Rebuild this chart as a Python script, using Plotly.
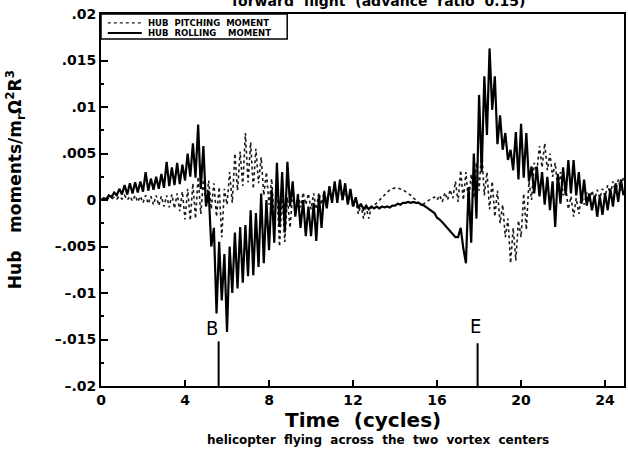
import plotly.graph_objects as go

time_step = 0.125
rolling_moment = [
    0.0, 0.0002, 0.0001, 0.0005, 0.0003, 0.0008, 0.0005, 0.0012,
    0.0006, 0.0016, 0.0006, 0.0018, 0.0007, 0.0019, 0.0008, 0.0020,
    0.0009, 0.0030, 0.0010, 0.0023, 0.0011, 0.0025, 0.0012, 0.0028,
    0.0013, 0.0041, 0.0015, 0.0035, 0.0016, 0.0040, 0.0017, 0.0038,
    0.0021, 0.0050, 0.0025, 0.0061, 0.0024, 0.0081, 0.0012, 0.0058,
    -0.0007, 0.0010, -0.0050, -0.0030, -0.0122, -0.0045, -0.0108, -0.0058,
    -0.0142, -0.0050, -0.0100, -0.0035, -0.0095, -0.0029, -0.0089, -0.0027,
    -0.0082, -0.0011, -0.0081, -0.0014, -0.0072, 0.0007, -0.0068, 0.0000,
    -0.0054, 0.0011, -0.0046, 0.0040, -0.0029, 0.0030, -0.0035, 0.0041,
    -0.0007, 0.0020, -0.0018, 0.0005, -0.0030, 0.0000, -0.0039, -0.0007,
    -0.0039, -0.0003, -0.0044, 0.0005, -0.0030, 0.0009, -0.0009, 0.0015,
    -0.0003, 0.0020, -0.0003, 0.0022, 0.0000, 0.0018, -0.0005, 0.0012,
    -0.0007, 0.0003, -0.0009, -0.0004, -0.0010, -0.0006, -0.0010, -0.0007,
    -0.0009, -0.0007, -0.0009, -0.0007, -0.0008, -0.0007, -0.0008, -0.0006,
    -0.0006, -0.0004, -0.0005, -0.0003, -0.0003, -0.0002, -0.0003, -0.0002,
    -0.0003, -0.0003, -0.0005, -0.0006, -0.0008, -0.0010, -0.0012, -0.0014,
    -0.0019, -0.0021, -0.0024, -0.0027, -0.0031, -0.0034, -0.0037, -0.0040,
    -0.0040, -0.0030, -0.0052, -0.0068, 0.0014, -0.0046, 0.0050, -0.0020,
    0.0113, 0.0030, 0.0133, 0.0070, 0.0163, 0.0097, 0.0133, 0.0060,
    0.0091, 0.0054, 0.0072, 0.0043, 0.0054, 0.0032, 0.0073, 0.0022,
    0.0082, 0.0024, 0.0072, 0.0020, 0.0036, 0.0007, 0.0036, 0.0004,
    0.0030, -0.0005, 0.0025, -0.0011, 0.0020, -0.0029, 0.0028, -0.0004,
    0.0035, 0.0005, 0.0043, 0.0007, 0.0043, 0.0005, 0.0030, -0.0004,
    0.0022, -0.0006, 0.0007, -0.0011, 0.0005, -0.0018, 0.0004, -0.0016,
    0.0007, -0.0011, 0.0012, -0.0007, 0.0018, -0.0002, 0.0022, 0.0005,
]
pitching_moment = [
    0.0, 0.0001, 0.0, 0.0002, 0.0001, 0.0003, 0.0001, 0.0004,
    0.0001, 0.0005, 0.0000, 0.0004, -0.0001, 0.0005, -0.0002, 0.0004,
    -0.0003, 0.0005, -0.0004, 0.0004, -0.0005, 0.0005, -0.0006, 0.0004,
    -0.0007, 0.0005, -0.0008, 0.0006, -0.0009, 0.0007, -0.0012, 0.0009,
    -0.0021, 0.0012, -0.0022, 0.0018, -0.0020, 0.0025, -0.0015, 0.0022,
    -0.0005, 0.0021, -0.0010, 0.0018, -0.0018, 0.0014, -0.0040, 0.0012,
    -0.0005, 0.0030, -0.0003, 0.0050, 0.0010, 0.0052, 0.0015, 0.0072,
    0.0019, 0.0062, 0.0012, 0.0055, 0.0018, 0.0046, 0.0005, 0.0030,
    -0.0005, 0.0023, -0.0025, 0.0010, -0.0050, 0.0005, -0.0045, 0.0003,
    -0.0030, 0.0008, -0.0015, 0.0008, -0.0008, 0.0008, -0.0005, 0.0007,
    -0.0010, 0.0007, -0.0010, 0.0008, -0.0005, 0.0010, -0.0003, 0.0012,
    0.0000, 0.0015, 0.0002, 0.0015, 0.0000, 0.0012, -0.0003, 0.0008,
    -0.0008, 0.0000, -0.0015, -0.0005, -0.0020, -0.0008, -0.0020, -0.0007,
    -0.0006, -0.0003, 0.0000, 0.0003, 0.0006, 0.0009, 0.0011, 0.0012,
    0.0013, 0.0013, 0.0012, 0.0011, 0.0009, 0.0007, 0.0005, 0.0002,
    0.0000, -0.0003, -0.0005, -0.0004, -0.0002, 0.0000, 0.0002, 0.0003,
    0.0000, 0.0005, -0.0002, 0.0008, 0.0000, 0.0011, 0.0002, 0.0020,
    -0.0002, 0.0032, 0.0000, 0.0030, -0.0004, 0.0028, 0.0002, 0.0040,
    0.0010, 0.0055, 0.0005, 0.0030, -0.0010, 0.0020, -0.0018, 0.0010,
    -0.0025, -0.0005, -0.0040, -0.0020, -0.0068, -0.0030, -0.0065, -0.0022,
    -0.0040, 0.0007, -0.0032, 0.0020, 0.0000, 0.0040, 0.0030, 0.0058,
    0.0035, 0.0061, 0.0032, 0.0050, 0.0025, 0.0040, 0.0010, 0.0030,
    0.0005, 0.0015, -0.0010, 0.0004, -0.0018, 0.0002, -0.0015, 0.0006,
    -0.0005, 0.0008, -0.0002, 0.0010, 0.0000, 0.0011, 0.0002, 0.0012,
    0.0004, 0.0016, 0.0006, 0.0020, 0.0008, 0.0022, 0.0010, 0.0025,
]
time_cycles = [i * time_step for i in range(len(rolling_moment))]

series_names = ["HUB  PITCHING  MOMENT", "HUB  ROLLING    MOMENT"]

y_tick_vals = [0.02, 0.015, 0.01, 0.005, 0.0, -0.005, -0.01, -0.015, -0.02]
y_tick_text = [".02", ".015", ".01", ".005", "0", "\u2013.005", "\u2013.01", "\u2013.015", "\u2013.02"]
x_tick_vals = [0, 4, 8, 12, 16, 20, 24]

markers = ["B", "E"]
marker_time = [5.6, 17.93]
marker_label_time = [5.3, 17.82]
marker_label_value = [-0.0138, -0.0135]
marker_line_top = [-0.0152, -0.0154]

FONT = "DejaVu Sans"
pitch_line = dict(color="#1a1a1a", width=1.6, dash="dot")
roll_line = dict(color="black", width=2.2)

fig = go.Figure()
fig.add_trace(go.Scatter(x=time_cycles, y=pitching_moment, mode="lines",
                         name=series_names[0], line=pitch_line, showlegend=False))
fig.add_trace(go.Scatter(x=time_cycles, y=rolling_moment, mode="lines",
                         name=series_names[1], line=roll_line, showlegend=False))

# event markers B and E
for m, tx, lt, lv, top in zip(markers, marker_time, marker_label_time, marker_label_value, marker_line_top):
    fig.add_shape(type="line", x0=tx, x1=tx, y0=top, y1=-0.02, xref="x", yref="y",
                  line=dict(color="black", width=2))
    fig.add_annotation(x=lt, y=lv, xref="x", yref="y", text=m, showarrow=False,
                       font=dict(family="DejaVu Sans Condensed, DejaVu Sans", size=20, color="black"))

# compact boxed legend in the top-left corner
fig.add_shape(type="rect", xref="paper", yref="paper", x0=0, x1=0.356, y0=0.933, y1=1.0,
              line=dict(color="black", width=1.5), fillcolor="white", layer="above")
legend_rows = [0.976, 0.949]
for name, ln, yy in zip(series_names, [pitch_line, roll_line], legend_rows):
    fig.add_shape(type="line", xref="paper", yref="paper", x0=0.013, x1=0.078, y0=yy, y1=yy,
                  line=dict(color=ln["color"], width=1.3 if "dash" in ln else 2,
                            dash=ln.get("dash", "solid")), layer="above")
    fig.add_annotation(x=0.086, y=yy, xref="paper", yref="paper", xanchor="left", yanchor="middle",
                       text=name, showarrow=False,
                       font=dict(family=FONT, size=8.5, color="black", weight="bold"))

fig.add_annotation(x=0.53, y=1.035, xref="paper", yref="paper", yanchor="middle",
                   text="forward  flight  (advance  ratio  0.15)", showarrow=False,
                   font=dict(family=FONT, size=14, color="black", weight="bold"))
fig.add_annotation(x=0.5, y=-0.092, xref="paper", yref="paper", yanchor="middle",
                   text="Time  (cycles)", showarrow=False,
                   font=dict(family=FONT, size=20, color="black", weight="bold"))
fig.add_annotation(x=0.53, y=-0.145, xref="paper", yref="paper", yanchor="middle",
                   text="helicopter  flying  across  the  two  vortex  centers", showarrow=False,
                   font=dict(family=FONT, size=12, color="black", weight="bold"))
fig.add_annotation(x=-0.162, y=0.554, xref="paper", yref="paper", xanchor="center", yanchor="middle",
                   textangle=-90,
                   text="Hub   moments/m<sub>r</sub>\u03a9<sup>2</sup>R<sup>3</sup>", showarrow=False,
                   font=dict(family=FONT, size=17, color="black", weight="bold"))

fig.update_xaxes(range=[0, 24.9], tickvals=x_tick_vals, ticks="inside", ticklen=6, tickwidth=1.5,
                 tickcolor="black", showline=True, linecolor="black", linewidth=2, mirror=True,
                 showgrid=False, zeroline=False,
                 tickfont=dict(family=FONT, size=14, color="black", weight="bold"))
fig.update_yaxes(range=[-0.02, 0.02], tickvals=y_tick_vals, ticktext=y_tick_text, ticks="inside",
                 ticklen=7, tickwidth=1.5, tickcolor="black", showline=True, linecolor="black",
                 linewidth=2, mirror=True, showgrid=False, zeroline=False,
                 minor=dict(ticks="inside", ticklen=3, tickcolor="black", dtick=0.0025, showgrid=False),
                 tickfont=dict(family=FONT, size=14, color="black", weight="bold"))

fig.update_layout(
    width=628, height=464,
    margin=dict(l=101, r=2, t=14, b=78),
    paper_bgcolor="white", plot_bgcolor="white",
    showlegend=False,
)

fig.write_html("out.html", config={"displayModeBar": False},
               post_script="document.body.style.margin='0';document.body.style.padding='0';"
                           "document.body.style.overflow='hidden';")
